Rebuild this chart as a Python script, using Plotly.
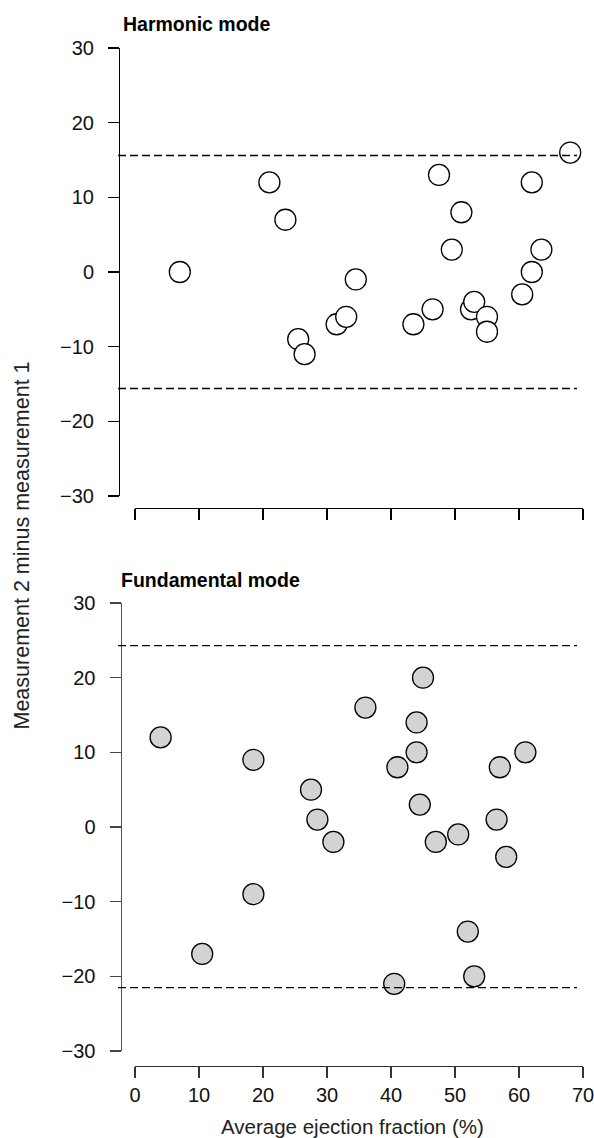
import plotly.graph_objects as go

W, H = 594, 1138

# Harmonic mode (open circles)
harm_x = [7, 21, 23.5, 25.5, 26.5, 31.5, 33, 34.5, 43.5, 46.5, 47.5, 49.5, 51,
          52.5, 53, 55, 55, 60.5, 62, 62, 63.5, 68]
harm_y = [0, 12, 7, -9, -11, -7, -6, -1, -7, -5, 13, 3, 8,
          -5, -4, -6, -8, -3, 0, 12, 3, 16]
harm_limits = [15.6, -15.6]

# Fundamental mode (grey circles)
fund_x = [4, 10.5, 18.5, 18.5, 27.5, 28.5, 31, 36, 40.5, 41, 44, 44, 44.5, 45,
          47, 50.5, 52, 53, 56.5, 57, 58, 61]
fund_y = [12, -17, 9, -9, 5, 1, -2, 16, -21, 8, 14, 10, 3, 20,
          -2, -1, -14, -20, 1, 8, -4, 10]
fund_limits = [24.3, -21.5]

x_ticks = [0, 10, 20, 30, 40, 50, 60, 70]
y_ticks = [-30, -20, -10, 0, 10, 20, 30]

titles = ["Harmonic mode", "Fundamental mode"]
x_title = "Average ejection fraction (%)"
y_title = "Measurement 2 minus measurement 1"

FONT = "Liberation Sans, Arial, sans-serif"

fig = go.Figure()
fig.add_trace(go.Scatter(
    x=harm_x, y=harm_y, mode="markers", xaxis="x", yaxis="y",
    marker=dict(size=21, color="white", line=dict(color="black", width=1.3)),
    cliponaxis=False, showlegend=False, hoverinfo="skip"))
fig.add_trace(go.Scatter(
    x=fund_x, y=fund_y, mode="markers", xaxis="x2", yaxis="y2",
    marker=dict(size=21, color="#d3d3d3", line=dict(color="black", width=1.3)),
    cliponaxis=False, showlegend=False, hoverinfo="skip"))

xdom = [135 / W, 583 / W]
common_x = dict(domain=xdom, range=[0, 70], anchor="free", showline=True,
                ticks="outside", ticklen=11, tickvals=x_ticks,
                showgrid=False, zeroline=False, automargin=False,
                ticklabeloverflow="allow",
                tickfont=dict(family=FONT, size=20, color="#111"))
common_y = dict(range=[-30, 30], anchor="free", showline=True,
                ticks="outside", ticklen=11, tickvals=y_ticks,
                showgrid=False, zeroline=False, automargin=False,
                ticklabeloverflow="allow", ticklabelstandoff=10,
                tickfont=dict(family=FONT, size=20, color="#111"))

fig.update_layout(
    template="none",
    width=W, height=H,
    margin=dict(l=0, r=0, t=0, b=0, pad=0, autoexpand=False),
    paper_bgcolor="white", plot_bgcolor="white",
    font=dict(family=FONT, color="black"),
    xaxis=dict(**common_x, position=1 - 508 / H, showticklabels=False,
               linecolor="black", linewidth=1.3, tickcolor="black", tickwidth=1.3),
    yaxis=dict(**common_y, domain=[1 - 496 / H, 1 - 48 / H], position=119 / W,
               linecolor="black", linewidth=1.3, tickcolor="black", tickwidth=1.3),
    xaxis2=dict(**common_x, position=1 - 1066 / H, showticklabels=True,
                linecolor="#333", linewidth=1.4, tickcolor="#333", tickwidth=1.4),
    yaxis2=dict(**common_y, domain=[1 - 1051 / H, 1 - 603 / H], position=120.5 / W,
                linecolor="#555", linewidth=1.8, tickcolor="#444", tickwidth=1.5),
)

dash_x0 = (118 - 135) / 448
dash_x1 = (577 - 135) / 448
shapes = []
for v in harm_limits:
    shapes.append(dict(type="line", xref="x domain", yref="y", x0=dash_x0, x1=dash_x1,
                       y0=v, y1=v, line=dict(color="black", width=1.3, dash="8px,4px")))
for v in fund_limits:
    shapes.append(dict(type="line", xref="x2 domain", yref="y2", x0=dash_x0, x1=dash_x1,
                       y0=v, y1=v, line=dict(color="black", width=1.3, dash="8px,4px")))
fig.update_layout(shapes=shapes)

ann = [
    dict(text="<b>" + titles[0] + "</b>", x=121 / W, y=1 - 24 / H, xref="paper", yref="paper",
         xanchor="left", yanchor="middle", showarrow=False,
         font=dict(family=FONT, size=19.5, color="black")),
    dict(text="<b>" + titles[1] + "</b>", x=119 / W, y=1 - 580 / H, xref="paper", yref="paper",
         xanchor="left", yanchor="middle", showarrow=False,
         font=dict(family=FONT, size=19.5, color="black")),
    dict(text=x_title, x=352 / W, y=1 - 1126 / H, xref="paper", yref="paper",
         xanchor="center", yanchor="middle", showarrow=False,
         font=dict(family=FONT, size=20.5, color="#222")),
    dict(text=y_title, x=21.5 / W, y=1 - 546 / H, xref="paper", yref="paper",
         xanchor="center", yanchor="middle", showarrow=False, textangle=-90,
         font=dict(family=FONT, size=21.5, color="#222")),
]
fig.update_layout(annotations=ann)

fig.write_html("out.html",
               config={"displayModeBar": False, "staticPlot": True},
               post_script="document.body.style.margin='0';document.body.style.overflow='hidden';")
